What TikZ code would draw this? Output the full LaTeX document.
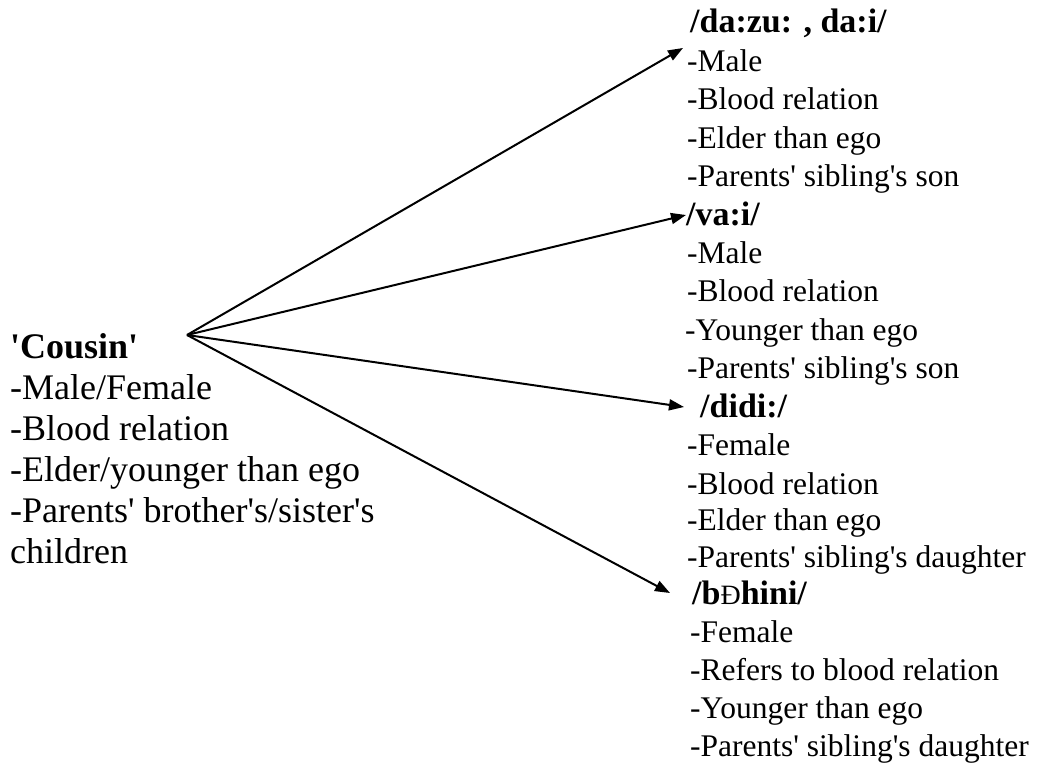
\documentclass[tikz,border=0pt]{standalone}
\usepackage{fontspec}
\setmainfont{Liberation Serif}
\usetikzlibrary{arrows.meta}
\newcommand{\aq}{\textquotesingle}
\begin{document}
\begin{tikzpicture}[x=1pt,y=-1pt,
  lefttxt/.style={anchor=base west,inner sep=0pt,font=\fontsize{36}{36}\selectfont},
  lefthead/.style={anchor=base west,inner sep=0pt,font=\fontsize{36}{36}\selectfont\bfseries},
  righttxt/.style={anchor=base west,inner sep=0pt,font=\fontsize{31.5}{31.5}\selectfont},
  head/.style={anchor=base west,inner sep=0pt,font=\fontsize{34}{34}\selectfont\bfseries},
  conn/.style={line width=2pt,-{Triangle[length=15pt,width=11pt]}}]
\useasboundingbox (0,0) rectangle (1038,765);
% left block
\node[lefthead] (cousin) at (10,358) {\aq Cousin\aq};
\node[lefttxt] (l1) at (10,399) {-Male/Female};
\node[lefttxt] (l2) at (10,440) {-Blood relation};
\node[lefttxt] (l3) at (10,481.5) {-Elder/younger than ego};
\node[lefttxt] (l4) at (10,522.5) {-Parents\aq{} brother\aq s/sister\aq s};
\node[lefttxt] (l5) at (10,563.5) {children};
% right groups
\node[head] (h1) at (690,33) {/da:zu: , da:i/};
\node[righttxt] (a1) at (687,72) {-Male};
\node[righttxt] (a2) at (687,110) {-Blood relation};
\node[righttxt] (a3) at (687,148) {-Elder than ego};
\node[righttxt] (a4) at (687,186) {-Parents\aq{} sibling\aq s son};
\node[head] (h2) at (686,225) {/va:i/};
\node[righttxt] (b1) at (687,263.4) {-Male};
\node[righttxt] (b2) at (687,301.8) {-Blood relation};
\node[righttxt] (b3) at (685,340.2) {-Younger than ego};
\node[righttxt] (b4) at (687,378.6) {-Parents\aq{} sibling\aq s son};
\node[head] (h3) at (700,417) {/didi:/};
\node[righttxt] (c1) at (687,455.4) {-Female};
\node[righttxt] (c2) at (687,494) {-Blood relation};
\node[righttxt] (c3) at (687,530) {-Elder than ego};
\node[righttxt] (c4) at (687,567) {-Parents\aq{} sibling\aq s daughter};
\node[head] (h4) at (692,604) {/b{\fontsize{28}{28}\selectfont\mdseries Ð}hini/};
\node[righttxt] (d1) at (690,642) {-Female};
\node[righttxt] (d2) at (690,680) {-Refers to blood relation};
\node[righttxt] (d3) at (690,718) {-Younger than ego};
\node[righttxt] (d4) at (690,756) {-Parents\aq{} sibling\aq s daughter};
% connectors
\coordinate (apex) at (187,335);
\coordinate (t1) at (683,48);
\coordinate (t2) at (686,215);
\coordinate (t3) at (684,407);
\coordinate (t4) at (670,593);
\draw[conn] (apex) -- (t1);
\draw[conn] (apex) -- (t2);
\draw[conn] (apex) -- (t3);
\draw[conn] (apex) -- (t4);
\end{tikzpicture}
\end{document}
